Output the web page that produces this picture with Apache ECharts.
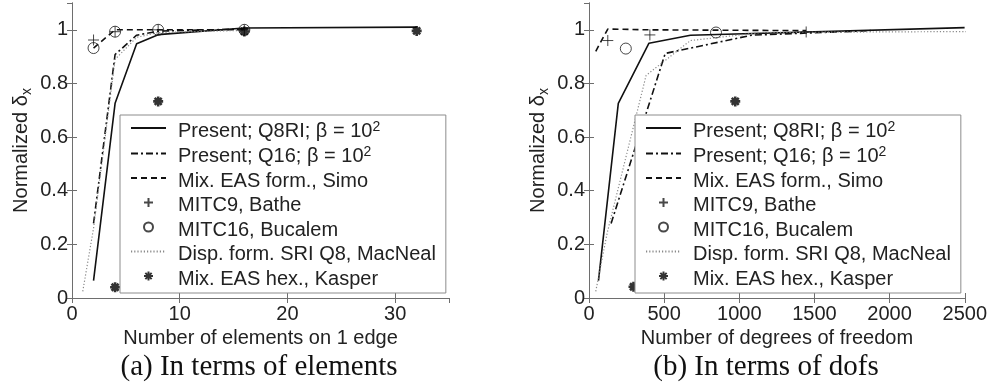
<!DOCTYPE html>
<html>
<head>
<meta charset="utf-8">
<script src="https://cdn.jsdelivr.net/npm/echarts@6/dist/echarts.min.js"></script>
<style>
  html, body { margin: 0; padding: 0; background: #fff; }
  #chart { width: 990px; height: 389px; }
</style>
</head>
<body>
<div id="chart"></div>
<script>
// ---- (a) convergence against number of elements on one edge ----
const elemQ8RI    = [[2, 0.065], [4, 0.726], [6, 0.948], [8, 0.982], [16, 1.007], [32, 1.01]];
const elemQ16     = [[2, 0.278], [4, 0.908], [6, 0.98], [8, 0.995], [16, 1.003]];
const elemSimo    = [[2, 0.932], [4, 1.0], [8, 1.0], [16, 1.0]];
const elemMITC9   = [[2, 0.962], [4, 0.993], [8, 1.0], [16, 1.0]];
const elemMITC16  = [[2, 0.932], [4, 0.993], [8, 1.0], [16, 1.0]];
const elemMacNeal = [[1, 0.025], [2, 0.26], [4, 0.89], [6, 0.972], [8, 0.99], [16, 0.998]];
const elemKasper  = [[4, 0.04], [8, 0.733], [16, 0.994], [32, 0.996]];

// ---- (b) convergence against number of degrees of freedom ----
const dofQ8RI    = [[63, 0.065], [195, 0.726], [399, 0.95], [675, 0.98], [2499, 1.008]];
const dofQ16     = [[147, 0.278], [507, 0.912], [1083, 0.98], [1875, 0.997]];
const dofSimo    = [[45, 0.92], [125, 1.003], [405, 1.0], [1445, 0.997]];
const dofMITC9   = [[125, 0.96], [405, 0.981], [1445, 0.992]];
const dofMITC16  = [[245, 0.93], [845, 0.99]];
const dofMacNeal = [[45, 0.025], [120, 0.24], [380, 0.83], [675, 0.96], [1150, 0.99], [4200, 0.998]];
const dofKasper  = [[296, 0.042], [973, 0.733]];

// ---- axes ----
const yTicks = { min: 0, max: 1.1, interval: 0.2 };
const xElem  = { min: 0, max: 35, interval: 10 };
const xDof   = { min: 0, max: 2500, interval: 500 };

const names = [
  'Present; Q8RI; β = 10',
  'Present; Q16; β = 10',
  'Mix. EAS form., Simo',
  'MITC9, Bathe',
  'MITC16, Bucalem',
  'Disp. form. SRI Q8, MacNeal',
  'Mix. EAS hex., Kasper'
];

const FONT = 'Liberation Sans';
const AXIS_GRAY = '#6e6e6e';
const PLUS = 'path://M0,-10L0,10M-10,0L10,0';
const STAR = 'path://M0,-10L0,10M-10,0L10,0M-7,-7L7,7M-7,7L7,-7';
const CLEAR = 'rgba(0,0,0,0)';

function lineSeries(name, data, xi, dash, color, width) {
  return {
    name, type: 'line', data, xAxisIndex: xi, yAxisIndex: xi,
    symbol: 'none', clip: true, z: 2,
    itemStyle: { color: CLEAR, borderWidth: 0 },
    lineStyle: { color, width, type: dash }
  };
}
function markSeries(name, data, xi, symbol, size, bw, stroke) {
  return {
    name, type: 'scatter', data, xAxisIndex: xi, yAxisIndex: xi,
    symbol, symbolSize: size, clip: true, z: 3,
    itemStyle: { color: CLEAR, borderColor: stroke, borderWidth: bw }
  };
}
function seriesFor(xi, q8, q16, simo, m9, m16, mac, kas) {
  return [
    lineSeries(names[0], q8, xi, 'solid', '#111', 1.6),
    lineSeries(names[1], q16, xi, [7, 3, 2, 3], '#111', 1.6),
    lineSeries(names[2], simo, xi, [6, 4], '#111', 1.6),
    markSeries(names[3], m9, xi, PLUS, 11, 1, '#1a1a1a'),
    markSeries(names[4], m16, xi, 'circle', 11, 1, '#1a1a1a'),
    lineSeries(names[5], mac, xi, [1.2, 2], '#8a8a8a', 1.2),
    markSeries(names[6], kas, xi, STAR, 10, 2.6, '#000')
  ];
}

const plainNumber = v => String(v);

function bottomAxis(gi, scale, label, showMax) {
  return {
    type: 'value', gridIndex: gi, position: 'bottom', ...scale,
    name: label, nameLocation: 'middle', nameGap: 17,
    nameTextStyle: { fontFamily: FONT, fontSize: 20, color: '#222' },
    axisLine: { show: true, lineStyle: { color: AXIS_GRAY, width: 1 } },
    axisTick: { show: true, inside: true, length: 5, lineStyle: { color: AXIS_GRAY } },
    axisLabel: { fontFamily: FONT, fontSize: 20, color: '#222', margin: 6, showMaxLabel: showMax, formatter: plainNumber },
    splitLine: { show: false }
  };
}
function topAxis(gi, scale) {
  return {
    type: 'value', gridIndex: gi, position: 'top', ...scale,
    axisLine: { show: true, lineStyle: { color: AXIS_GRAY, width: 1 } },
    axisTick: { show: true, inside: true, length: 5, lineStyle: { color: AXIS_GRAY } },
    axisLabel: { show: false }, splitLine: { show: false }
  };
}
function leftAxis(gi) {
  return {
    type: 'value', gridIndex: gi, position: 'left', ...yTicks,
    name: '{a|Normalized δ}{b|x}', nameLocation: 'middle', nameGap: 38, nameRotate: 90,
    nameTextStyle: {
      fontFamily: FONT, color: '#222',
      rich: {
        a: { fontFamily: FONT, fontSize: 20, lineHeight: 26, color: '#222' },
        b: { fontFamily: FONT, fontSize: 14, lineHeight: 14, verticalAlign: 'bottom', color: '#222' }
      }
    },
    axisLine: { show: true, lineStyle: { color: AXIS_GRAY, width: 1 } },
    axisTick: { show: true, inside: true, length: 5, lineStyle: { color: AXIS_GRAY } },
    axisLabel: { fontFamily: FONT, fontSize: 20, color: '#222', margin: 4, showMaxLabel: false, formatter: plainNumber },
    splitLine: { show: false }
  };
}
function rightAxis(gi) {
  return {
    type: 'value', gridIndex: gi, position: 'right', ...yTicks,
    axisLine: { show: true, lineStyle: { color: AXIS_GRAY, width: 1 } },
    axisTick: { show: true, inside: true, length: 5, lineStyle: { color: AXIS_GRAY } },
    axisLabel: { show: false }, splitLine: { show: false }
  };
}

function legendAt(left) {
  return {
    orient: 'vertical', left, top: 115,
    data: names.map((n, i) => ({ name: n, icon: i === 3 ? PLUS : i === 4 ? 'circle' : i === 6 ? STAR : undefined })),
    itemWidth: 35, itemHeight: 9, itemGap: 4.5,
    padding: [5, 10, 4, 10],
    backgroundColor: '#fff', borderColor: '#8c8c8c', borderWidth: 1,
    selectedMode: false, z: 10,
    formatter: n => (n.endsWith('= 10') ? '{a|' + n + '}{s|2}' : '{a|' + n + '}'),
    textStyle: {
      fontFamily: FONT, fontSize: 20, color: '#222', padding: [6, 0, 0, 7],
      rich: {
        a: { fontFamily: FONT, fontSize: 20, lineHeight: 22, color: '#222' },
        s: { fontFamily: FONT, fontSize: 14, lineHeight: 7, verticalAlign: 'top', color: '#222' }
      }
    }
  };
}

const chart = echarts.init(document.getElementById('chart'), null, { renderer: 'canvas' });
chart.setOption({
  animation: false,
  backgroundColor: '#fff',
  grid: [
    { left: 72, top: 3, width: 377, height: 295 },
    { left: 589, top: 3, width: 376, height: 295 }
  ],
  xAxis: [
    bottomAxis(0, xElem, 'Number of elements on 1 edge', false),
    bottomAxis(1, xDof, 'Number of degrees of freedom', true),
    topAxis(0, xElem),
    topAxis(1, xDof)
  ],
  yAxis: [leftAxis(0), leftAxis(1), rightAxis(0), rightAxis(1)],
  legend: [legendAt(120), legendAt(635)],
  series: [
    ...seriesFor(0, elemQ8RI, elemQ16, elemSimo, elemMITC9, elemMITC16, elemMacNeal, elemKasper),
    ...seriesFor(1, dofQ8RI, dofQ16, dofSimo, dofMITC9, dofMITC16, dofMacNeal, dofKasper)
  ],
  graphic: [
    { type: 'text', x: 259, y: 367, style: { text: '(a) In terms of elements', font: '29px "Liberation Serif"', fill: '#111', align: 'center', verticalAlign: 'middle' } },
    { type: 'text', x: 766, y: 367, style: { text: '(b) In terms of dofs', font: '29px "Liberation Serif"', fill: '#111', align: 'center', verticalAlign: 'middle' } }
  ]
});
</script>
</body>
</html>
